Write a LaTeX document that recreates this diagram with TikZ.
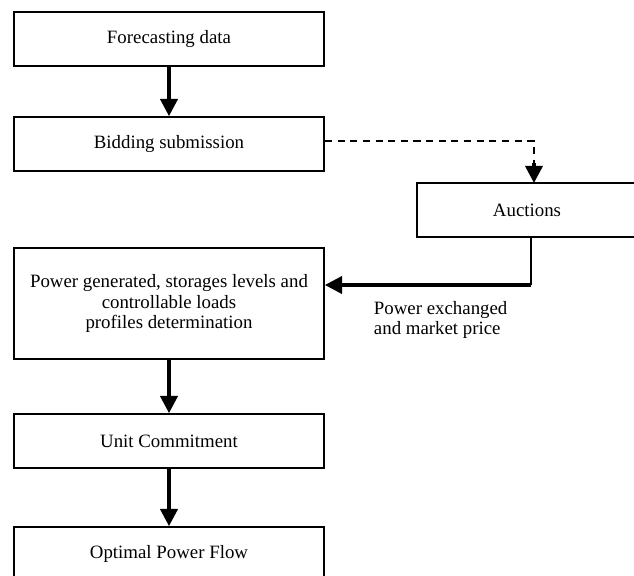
\documentclass[tikz,border=0pt]{standalone}
\usepackage{fontspec}
\setmainfont{Liberation Serif}
\usetikzlibrary{arrows.meta}

\tikzset{
  stage/.style={draw, line width=1.2pt, minimum width=7.75cm, minimum height=1.35cm, inner sep=0pt, align=center},
  flow/.style={line width=2.4pt, -{Triangle[width=0.43cm,length=0.43cm]}},
}

\begin{document}
\begin{tikzpicture}[x=0.025cm, y=-0.025cm, font=\fontsize{13.4}{14.3}\selectfont]
    \clip (0,0) rectangle (634,575); % frame of the picture
    \node[stage] (forecast) at (169,39) {Forecasting data};
    \node[stage] (bidding) at (169,144) {Bidding submission};
    \node[stage, minimum width=5.5cm] (auctions) at (527,210) {Auctions};
    \node[stage, minimum height=2.78cm] (profiles) at (169,303.5) {Power generated, storages levels and\\ controllable loads\\ profiles determination};
    \node[stage] (commit) at (169,441) {Unit Commitment};
    \node[stage] (opf) at (169,554) {Optimal Power Flow};
    \draw[flow] (forecast) -- (bidding); % forecast to bids
    \coordinate (bidcorner) at (534,141);
    \draw[line width=1.3pt, dashed, dash pattern=on 5pt off 4pt] (bidding.east |- bidcorner) -- (bidcorner) -- (534,166); % bids to market
    \draw[flow] (534,163) -- (534,183);
    \coordinate (auctcorner) at (531,285);
    \draw[line width=0.9pt] (auctions.south -| auctcorner) -- (auctcorner); % market result
    \draw[flow] (auctcorner) -- (profiles.east |- auctcorner);
    \node[anchor=north west, align=left] (price) at (369,296) {Power exchanged\\ and market price};
    \draw[flow] (profiles) -- (commit);
    \draw[flow] (commit) -- (opf);
  \end{tikzpicture}
\end{document}
